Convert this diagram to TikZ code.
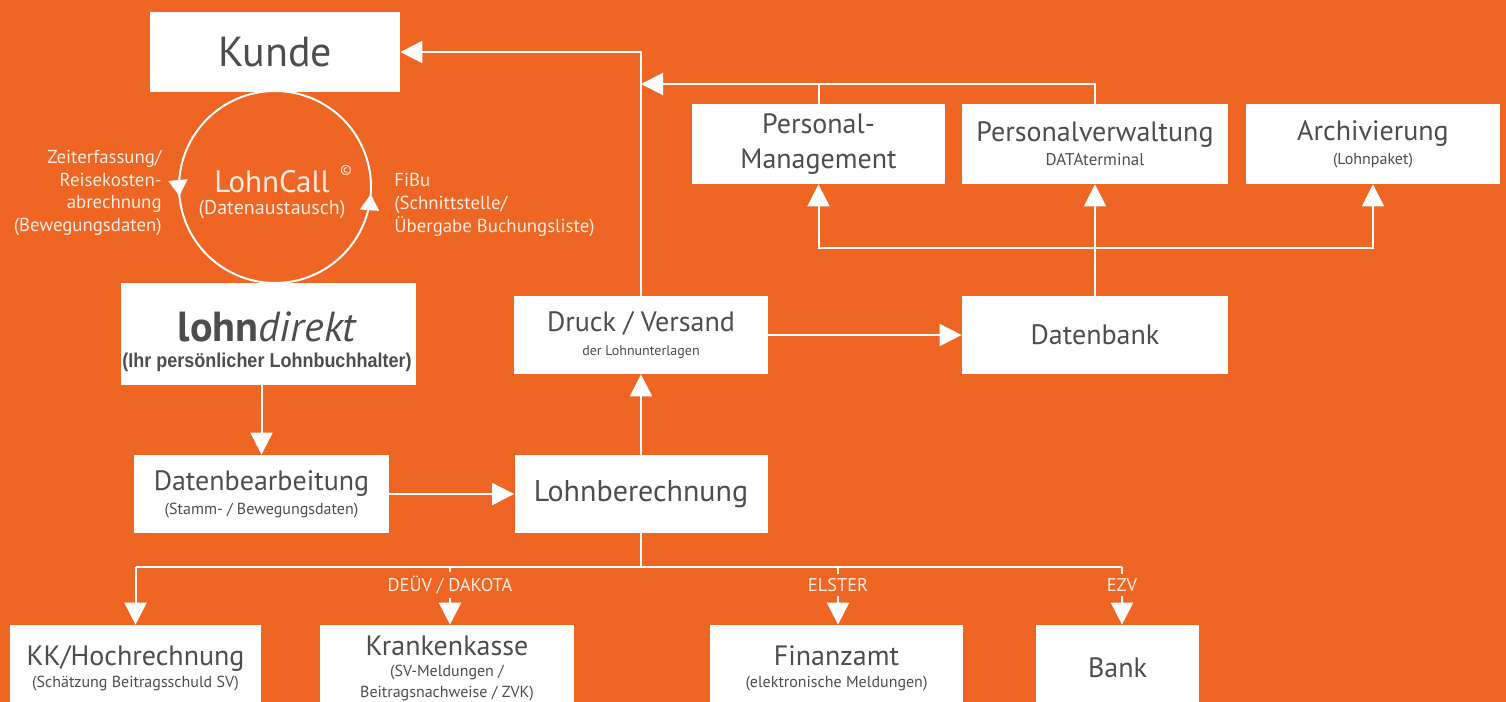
\documentclass[tikz,border=0pt]{standalone}
\usepackage{fontspec}
\setmainfont{PT Sans}
\newfontfamily\arialn[FakeStretch=0.9]{Liberation Sans}
\usetikzlibrary{arrows.meta,calc,positioning,decorations.markings}
\definecolor{lohnorange}{RGB}{239,101,35}
\definecolor{boxtext}{RGB}{77,77,77}
\definecolor{cream}{RGB}{253,236,225}
\newcommand\bxtitle{\fontsize{14}{16}\selectfont}
\newcommand\bxsub{\fontsize{8}{10}\selectfont}

\begin{document}
\begin{tikzpicture}
    [x=0.5pt,y=-0.5pt,
    box/.style={fill=white,text=boxtext,align=center,inner sep=0pt},
    wire/.style={white,line width=1pt},
    flow/.style={wire,-{Triangle[width=11pt,length=11pt]}},
    note/.style={text=cream,font=\fontsize{9.4}{11.3}\selectfont,inner sep=0pt},
    tag/.style={text=cream,font=\fontsize{9.2}{10}\selectfont,inner sep=2pt}]
    \fill[lohnorange] (0,0) rectangle (1506,702);

    % top left: Kunde, LohnCall, lohndirekt
    \node[box,minimum width=125pt,minimum height=40pt,font=\fontsize{21}{24}\selectfont] (kunde) at (275,52) {Kunde};
    \coordinate (callc) at (275,187);
    \draw[wire,postaction={decorate},decoration={markings,
        mark=at position 0.012 with {\arrowreversed{Triangle[width=9.5pt,length=8pt]}},
        mark=at position 0.485 with {\arrowreversed{Triangle[width=9.5pt,length=8pt]}}}]
        (callc) circle (96);
    \node[text=cream,align=center,inner sep=0pt] (lohncall) at (272,195)
        {{\fontsize{15.5}{17}\selectfont LohnCall}\\[-1pt]{\fontsize{10}{12}\selectfont (Datenaustausch)}};
    \node[text=cream,inner sep=0pt,font=\fontsize{7}{8}\selectfont] (copy) at (346,170) {\textcopyright};
    \node[note,align=right,anchor=east] (zeit) at (162,193)
        {Zeiterfassung/\\Reisekosten-\\abrechnung\\(Bewegungsdaten)};
    \node[note,align=left,anchor=west] (fibu) at (394,205)
        {FiBu\\(Schnittstelle/\\Übergabe Buchungsliste)};
    \node[box,minimum width=147.5pt,minimum height=51pt] (ld) at (268.5,334) {};
    \node[text=boxtext,align=center,inner sep=0pt] (ldtext) at (267,342)
        {{\fontsize{21}{22}\selectfont\bfseries lohn\mdseries\itshape direkt}\\[1pt]
         {\arialn\bfseries\fontsize{10}{11}\selectfont (Ihr persönlicher Lohnbuchhalter)}};

    % middle row
    \node[box,minimum width=127.5pt,minimum height=39pt] (db) at (261.5,494)
        {\bxtitle Datenbearbeitung\\{\bxsub (Stamm- / Bewegungsdaten)}};
    \node[box,minimum width=126.5pt,minimum height=39pt,font=\fontsize{15}{17}\selectfont] (lb) at (641,494) {Lohnberechnung};
    \node[box,minimum width=127pt,minimum height=39pt] (dv) at (641,335)
        {\bxtitle Druck / Versand\\{\fontsize{7}{9}\selectfont der Lohnunterlagen}};
    \node[box,minimum width=133pt,minimum height=39pt,font=\bxtitle] (dbank) at (1095,335) {Datenbank};

    % top right
    \node[box,minimum width=126.5pt,minimum height=40pt,font=\bxtitle] (pm) at (818.5,144) {Personal-\\[1.5pt]Management};
    \node[box,minimum width=133pt,minimum height=40pt] (pv) at (1095,144)
        {\bxtitle Personalverwaltung\\{\fontsize{8.5}{10}\selectfont DATAterminal}};
    \node[box,minimum width=127pt,minimum height=40pt] (ar) at (1373,144)
        {\bxtitle Archivierung\\{\bxsub (Lohnpaket)}};

    % bottom row
    \node[box,minimum width=125.5pt,minimum height=43pt] (kk) at (135.5,668)
        {\bxtitle KK/Hochrechnung\\[-1pt]{\bxsub (Schätzung Beitragsschuld SV)}};
    \node[box,minimum width=127pt,minimum height=43pt] (kr) at (447,668)
        {\bxtitle Krankenkasse\\[-1.5pt]{\bxsub (SV-Meldungen /}\\[-1.5pt]{\bxsub Beitragsnachweise / ZVK)}};
    \node[box,minimum width=126.5pt,minimum height=43pt] (fa) at (836.5,668)
        {\bxtitle Finanzamt\\[-1pt]{\bxsub (elektronische Meldungen)}};
    \node[box,minimum width=81.5pt,minimum height=43pt,font=\bxtitle] (bank) at (1117.5,668) {Bank};
    \node[tag] (deuv) at (450,585) {DEÜV / DAKOTA};
    \node[tag] (elster) at (838,585) {ELSTER};
    \node[tag] (ezv) at (1122,585) {EZV};

    % connectors
    \coordinate (tap) at (641,84);
    \coordinate (hub) at (1095,248);
    \coordinate (split) at (641,567);
    \draw[flow] (ld.south -| db.north) -- (db.north);
    \draw[flow] (db) -- (lb);
    \draw[flow] (lb) -- (dv);
    \draw[flow] (dv) -- (dbank);
    \draw[flow] (dv.north) |- (kunde.east);
    \draw[flow] (dbank) -- (pv);
    \draw[flow] (hub) -| (pm.south);
    \draw[flow] (hub) -| (ar.south);
    \draw[wire] (pm.north) -- (pm.north |- tap) -| (pv.north);
    \draw[flow] (pm.north |- tap) -- (tap);
    \draw[wire] (lb.south) -- (split);
    \draw[wire] (kk.north |- split) -- (ezv.north |- split);
    \draw[flow] (kk.north |- split) -- (kk.north);
    \foreach \lbl/\dst in {deuv/kr,elster/fa,ezv/bank}
    {
        \draw[wire] (\lbl.north |- split) -- (\lbl.north);
        \draw[flow] (\lbl.south) -- (\lbl.south |- \dst.north);
    }
    \pgfresetboundingbox
    \useasboundingbox (0,0) rectangle (1506,702);
\end{tikzpicture}
\end{document}
